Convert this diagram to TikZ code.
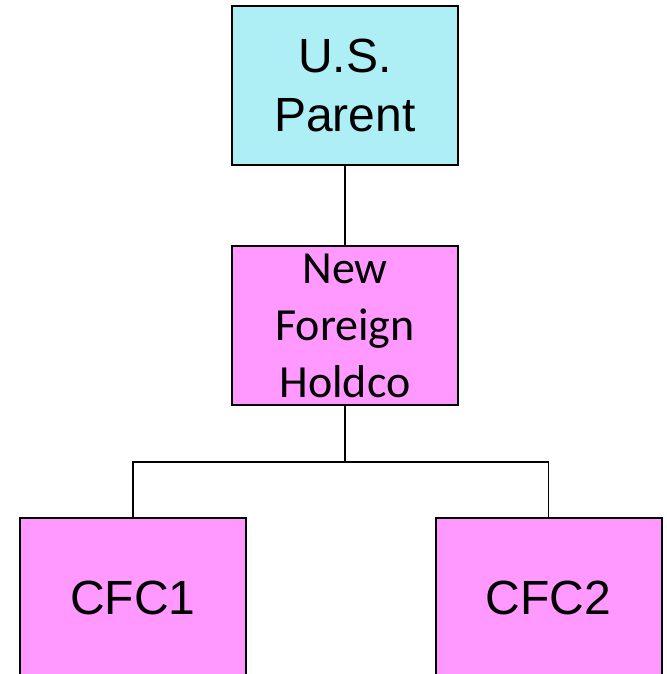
\documentclass[tikz,border=0pt]{standalone}
\usepackage{fontspec}
\setmainfont{Liberation Sans}
\newfontfamily\calfont{Carlito}
\usepackage{tikz}
\usetikzlibrary{calc}

\definecolor{parentcyan}{RGB}{174,238,245}
\definecolor{subpink}{RGB}{255,153,255}

\tikzset{
  entity/.style={draw=black, line width=1pt, minimum width=113pt, minimum height=79.5pt, inner sep=0pt, align=center},
  link/.style={line width=0.7pt}
}

\begin{document}
\begin{tikzpicture}[x=0.5pt, y=-0.5pt]
\useasboundingbox (0,0) rectangle (666,674);
\clip (0,0) rectangle (666,674);

\node[entity, fill=parentcyan, font=\fontsize{24}{29.5}\selectfont] (parent) at (345,85.5) {U.S.\\Parent};
\node[entity, fill=subpink, font=\calfont\fontsize{23}{28.5}\selectfont] (holdco) at (345,325.5) {New\\Foreign\\Holdco};
\node[entity, fill=subpink, font=\fontsize{24}{29.5}\selectfont] (cfcone) at (133,597.5) {CFC1};
\node[entity, fill=subpink, font=\fontsize{24}{29.5}\selectfont] (cfctwo) at (548.5,597.5) {CFC2};

\coordinate (bus) at (345,462);
\draw[link] (parent.south) -- (holdco.north);
\draw[link] (holdco.south) -- (bus);
\draw[link] (cfcone.north) |- (bus) -| (cfctwo.north);
\end{tikzpicture}
\end{document}
